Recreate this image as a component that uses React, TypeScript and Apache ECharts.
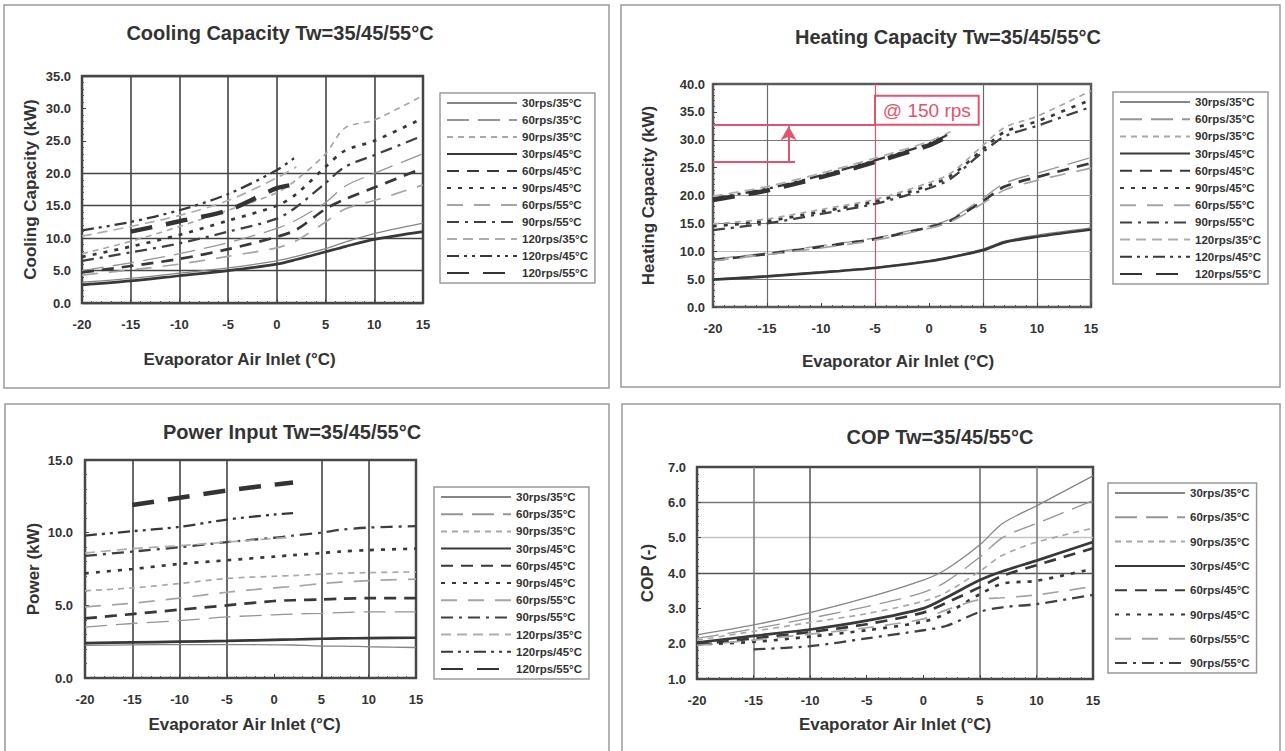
import React, { useEffect, useRef } from "react";
import * as echarts from "echarts";

// ---------- data ----------
const X_MIN = -20;
const X_MAX = 15;
const X_STEP = 5;
const X_FULL = [-20, -15, -10, -5, 0, 2, 5, 7, 10, 15];
const X_120 = [-20, -15, -10, -5, 0, 2];

const NAMES = [
  "30rps/35°C", "60rps/35°C", "90rps/35°C", "30rps/45°C", "60rps/45°C", "90rps/45°C",
  "60rps/55°C", "90rps/55°C", "120rps/35°C", "120rps/45°C", "120rps/55°C",
];
const COP_NAMES = NAMES.slice(0, 8);

// Cooling capacity (kW)
const COOL_30_35 = [3.2, 3.8, 4.6, 5.4, 6.5, 7.2, 8.4, 9.4, 10.7, 12.3];
const COOL_60_35 = [5.0, 6.2, 7.6, 9.3, 11.5, 12.8, 15.5, 18.0, 20.0, 23.0];
const COOL_90_35 = [7.6, 9.5, 11.8, 14.3, 17.0, 19.0, 23.0, 27.0, 28.2, 32.0];
const COOL_30_45 = [2.8, 3.4, 4.2, 5.0, 6.0, 6.7, 7.9, 8.7, 9.8, 11.0];
const COOL_60_45 = [4.7, 5.7, 6.8, 8.3, 10.2, 11.3, 14.5, 16.0, 17.8, 20.8];
const COOL_90_45 = [7.1, 8.7, 10.5, 12.7, 15.0, 16.8, 21.0, 23.5, 25.0, 28.5];
const COOL_60_55 = [4.3, 5.1, 6.0, 7.2, 8.5, 9.6, 12.5, 14.5, 15.8, 18.2];
const COOL_90_55 = [6.5, 7.8, 9.2, 11.0, 13.0, 14.8, 18.5, 21.0, 22.8, 25.8];
const COOL_120_35 = [10.3, 11.8, 13.5, 15.8, 19.3, 21.0];
const COOL_120_45 = [11.2, 12.5, 14.3, 16.8, 20.5, 22.6];
const COOL_120_55 = [null, 11.0, 12.6, 14.3, 17.7, 18.3];

// Heating capacity (kW)
const HEAT_30_35 = [5.0, 5.6, 6.3, 7.1, 8.3, 9.0, 10.4, 11.8, 12.9, 14.2];
const HEAT_60_35 = [8.6, 9.7, 11.0, 12.4, 14.5, 15.8, 19.5, 22.2, 24.0, 26.8];
const HEAT_90_35 = [14.9, 15.8, 17.5, 19.3, 22.3, 24.0, 29.0, 32.2, 34.2, 38.8];
const HEAT_30_45 = [4.9, 5.5, 6.2, 7.0, 8.2, 8.9, 10.2, 11.6, 12.6, 13.9];
const HEAT_60_45 = [8.4, 9.5, 10.8, 12.2, 14.3, 15.5, 19.0, 21.6, 23.3, 25.8];
const HEAT_90_45 = [14.5, 15.4, 17.1, 18.9, 21.8, 23.5, 28.3, 31.4, 33.3, 37.2];
const HEAT_60_55 = [8.3, 9.4, 10.6, 12.0, 14.1, 15.3, 18.6, 21.0, 22.7, 24.9];
const HEAT_90_55 = [13.8, 15.0, 16.7, 18.5, 21.3, 23.0, 27.8, 30.6, 32.5, 35.9];
const HEAT_120_35 = [19.9, 21.6, 24.0, 26.7, 29.7, 31.5];
const HEAT_120_45 = [19.5, 21.2, 23.6, 26.3, 29.3, 31.2];
const HEAT_120_55 = [19.2, 20.9, 23.3, 26.0, 29.0, 30.9];

// Power input (kW)
const POW_30_35 = [2.25, 2.28, 2.3, 2.3, 2.28, 2.27, 2.2, 2.2, 2.15, 2.1];
const POW_60_35 = [3.5, 3.75, 3.95, 4.2, 4.35, 4.4, 4.45, 4.5, 4.55, 4.55];
const POW_90_35 = [6.0, 6.2, 6.5, 6.85, 7.0, 7.05, 7.15, 7.2, 7.25, 7.3];
const POW_30_45 = [2.4, 2.45, 2.5, 2.55, 2.62, 2.65, 2.7, 2.72, 2.75, 2.77];
const POW_60_45 = [4.1, 4.4, 4.7, 5.0, 5.3, 5.35, 5.4, 5.45, 5.5, 5.5];
const POW_90_45 = [7.2, 7.5, 7.85, 8.1, 8.35, 8.45, 8.6, 8.7, 8.8, 8.9];
const POW_60_55 = [4.9, 5.15, 5.5, 5.9, 6.2, 6.3, 6.5, 6.6, 6.7, 6.8];
const POW_90_55 = [8.4, 8.7, 9.0, 9.35, 9.65, 9.8, 10.0, 10.2, 10.35, 10.45];
const POW_120_35 = [8.6, 8.9, 9.1, 9.35, 9.6, 9.7];
const POW_120_45 = [9.8, 10.1, 10.4, 10.9, 11.25, 11.35];
const POW_120_55 = [null, 11.9, 12.4, 12.9, 13.3, 13.45];

// COP (-)
const COP_30_35 = [2.25, 2.53, 2.88, 3.3, 3.8, 4.1, 4.8, 5.4, 5.9, 6.75];
const COP_60_35 = [2.15, 2.42, 2.72, 3.05, 3.45, 3.75, 4.45, 5.0, 5.4, 6.05];
const COP_90_35 = [2.1, 2.35, 2.6, 2.85, 3.2, 3.45, 4.05, 4.5, 4.87, 5.27];
const COP_30_45 = [2.03, 2.22, 2.4, 2.65, 3.0, 3.3, 3.8, 4.05, 4.35, 4.88];
const COP_60_45 = [1.98, 2.15, 2.33, 2.55, 2.88, 3.15, 3.6, 3.92, 4.22, 4.7];
const COP_90_45 = [1.98, 2.05, 2.2, 2.38, 2.62, 2.85, 3.4, 3.7, 3.78, 4.12];
const COP_60_55 = [1.95, 2.1, 2.27, 2.45, 2.7, 2.95, 3.25, 3.3, 3.38, 3.62];
const COP_90_55 = [null, 1.84, 1.93, 2.15, 2.38, 2.5, 2.9, 3.03, 3.12, 3.38];

// Annotation on heating chart
const ANNOT_X = -5;
const ANNOT_LOW = 26;
const ANNOT_HIGH = 32.7;
const ANNOT_BOX_TOP = 37.9;
const ANNOT_BOX_RIGHT = 4.6;
const ANNOT_ARROW_X = -13;
const ANNOT_LOW_END = -12.4;
const ANNOT_TEXT = "@ 150 rps";

// ---------- styles ----------
const FONT = '"Liberation Sans", Arial, sans-serif';
const RED = "#e2536d";
const STYLE: Record<string, { color: string; width: number; type: any }> = {
  "30rps/35°C": { color: "#858585", width: 1.3, type: "solid" },
  "60rps/35°C": { color: "#959595", width: 1.3, type: [22, 9] },
  "90rps/35°C": { color: "#a8a8a8", width: 1.7, type: [6, 5] },
  "30rps/45°C": { color: "#383838", width: 2.7, type: "solid" },
  "60rps/45°C": { color: "#383838", width: 2.7, type: [12, 8] },
  "90rps/45°C": { color: "#383838", width: 2.7, type: [4, 7] },
  "60rps/55°C": { color: "#a5a5a5", width: 1.7, type: [16, 11] },
  "90rps/55°C": { color: "#404040", width: 2.3, type: [12, 6, 3, 6] },
  "120rps/35°C": { color: "#adadad", width: 1.7, type: [10, 6] },
  "120rps/45°C": { color: "#383838", width: 2.3, type: [12, 5, 3, 5, 3, 5] },
  "120rps/55°C": { color: "#333333", width: 4.5, type: [22, 14] },
};

function mkSeries(g: number, name: string, xs: number[], ys: (number | null)[]) {
  const s = STYLE[name];
  const data = xs.map((x, i) => [x, ys[i]]).filter((d) => d[1] !== null);
  return {
    type: "line",
    name,
    xAxisIndex: g,
    yAxisIndex: g,
    data,
    symbol: "none",
    showSymbol: false,
    smooth: 0.3,
    lineStyle: { color: s.color, width: s.width, type: s.type },
    itemStyle: { color: s.color },
    emphasis: { disabled: true },
    z: 3,
  };
}

function groupSeries(g: number, sets: (number | null)[][], withX120: boolean) {
  return sets.map((ys, i) => mkSeries(g, NAMES[i], i >= 8 && withX120 ? X_120 : X_FULL, ys));
}

const T = "transparent";

function mkX(g: number, colors: string[], width: number, nameGap: number, pad: number[]) {
  return {
    type: "value",
    gridIndex: g,
    min: X_MIN,
    max: X_MAX,
    interval: X_STEP,
    axisLine: { show: false, onZero: false },
    axisTick: { show: true, inside: true, length: 4, lineStyle: { color: "#444" } },
    minorTick: { show: true, splitNumber: 5, length: 2, lineStyle: { color: "#555" } },
    axisLabel: { color: "#333", fontSize: 13, fontWeight: "bold", fontFamily: FONT, margin: 15 },
    splitLine: { show: true, lineStyle: { color: colors, width } },
    name: "Evaporator Air Inlet (°C)",
    nameLocation: "middle",
    nameGap,
    nameTextStyle: { color: "#333", fontSize: 17, fontWeight: "bold", fontFamily: FONT, padding: pad },
  };
}

function mkY(g: number, min: number, max: number, step: number, colors: string[] | null, width: number, name: string, nameGap: number, margin: number) {
  return {
    type: "value",
    gridIndex: g,
    min,
    max,
    interval: step,
    axisLine: { show: false, onZero: false },
    axisTick: { show: true, inside: true, length: 4, lineStyle: { color: "#444" } },
    minorTick: { show: true, splitNumber: 5, length: 2, lineStyle: { color: "#555" } },
    axisLabel: {
      color: "#333", fontSize: 13, fontWeight: "bold", fontFamily: FONT, margin,
      formatter: (v: number) => v.toFixed(1),
    },
    splitLine: colors ? { show: true, lineStyle: { color: colors, width } } : { show: false },
    name,
    nameLocation: "middle",
    nameGap,
    nameTextStyle: { color: "#333", fontSize: 17, fontWeight: "bold", fontFamily: FONT },
  };
}

function mkLegend(left: number, top: number, names: string[], gap: number) {
  return {
    orient: "vertical",
    left,
    top,
    data: names,
    itemWidth: 70,
    itemHeight: 12,
    itemGap: gap,
    padding: [4, 7, 4, 6],
    borderColor: "#999",
    borderWidth: 1.5,
    backgroundColor: "#fff",
    selectedMode: false,
    itemStyle: { color: T, borderColor: T, borderWidth: 0, opacity: 0 },
    textStyle: { fontSize: 11.5, fontWeight: "bold", color: "#333", fontFamily: FONT },
  };
}

function panelRect(x: number, y: number, w: number, h: number) {
  return {
    type: "rect",
    shape: { x, y, width: w, height: h },
    style: { fill: "none", stroke: "#9a9a9a", lineWidth: 1.5 },
    silent: true,
    z: 0,
  };
}

function titleText(x: number, y: number, text: string) {
  return {
    type: "text",
    x,
    y,
    silent: true,
    style: {
      text,
      fill: "#333",
      font: `bold 20px ${FONT}`,
      align: "center",
      verticalAlign: "middle",
    },
  };
}

export default function App() {
  const ref = useRef<HTMLDivElement>(null);

  useEffect(() => {
    if (!ref.current) return;
    const chart = echarts.init(ref.current, undefined, { renderer: "svg" });

    const series: any[] = [
      ...groupSeries(0, [COOL_30_35, COOL_60_35, COOL_90_35, COOL_30_45, COOL_60_45, COOL_90_45, COOL_60_55, COOL_90_55, COOL_120_35, COOL_120_45, COOL_120_55], true),
      ...groupSeries(1, [HEAT_30_35, HEAT_60_35, HEAT_90_35, HEAT_30_45, HEAT_60_45, HEAT_90_45, HEAT_60_55, HEAT_90_55, HEAT_120_35, HEAT_120_45, HEAT_120_55], true),
      ...groupSeries(2, [POW_30_35, POW_60_35, POW_90_35, POW_30_45, POW_60_45, POW_90_45, POW_60_55, POW_90_55, POW_120_35, POW_120_45, POW_120_55], true),
      ...groupSeries(3, [COP_30_35, COP_60_35, COP_90_35, COP_30_45, COP_60_45, COP_90_45, COP_60_55, COP_90_55], false),
      {
        type: "line",
        name: "annotation",
        xAxisIndex: 1,
        yAxisIndex: 1,
        data: [[ANNOT_X, ANNOT_HIGH]],
        symbol: "none",
        lineStyle: { opacity: 0 },
        z: 5,
        markLine: {
          silent: true,
          symbol: ["none", "none"],
          label: { show: false },
          lineStyle: { color: RED, width: 2, type: "solid" },
          data: [
            [{ coord: [X_MIN, ANNOT_HIGH] }, { coord: [ANNOT_X, ANNOT_HIGH] }],
            [{ coord: [X_MIN, ANNOT_LOW] }, { coord: [ANNOT_LOW_END, ANNOT_LOW] }],
            [
              { coord: [ANNOT_ARROW_X, ANNOT_LOW] },
              { coord: [ANNOT_ARROW_X, ANNOT_HIGH - 0.3], symbol: "arrow", symbolSize: [12, 14] },
            ],
          ],
        },
        markArea: {
          silent: true,
          itemStyle: { color: "rgba(255,255,255,0.9)", borderColor: RED, borderWidth: 2 },
          label: {
            show: true,
            position: "inside",
            color: RED,
            fontSize: 19,
            fontFamily: FONT,
            formatter: ANNOT_TEXT,
          },
          data: [[{ coord: [ANNOT_X, ANNOT_HIGH] }, { coord: [ANNOT_BOX_RIGHT, ANNOT_BOX_TOP] }]],
        },
      },
    ];

    const option: any = {
      animation: false,
      backgroundColor: "#fff",
      grid: [
        { left: 82, top: 76, width: 341, height: 227, show: true, borderColor: "#474747", borderWidth: 2.5, backgroundColor: T },
        { left: 713, top: 84, width: 378, height: 223, show: true, borderColor: "#5a5a5a", borderWidth: 2.5, backgroundColor: T },
        { left: 85, top: 460, width: 331, height: 218, show: true, borderColor: "#474747", borderWidth: 2.5, backgroundColor: T },
        { left: 697, top: 467, width: 396, height: 212, show: true, borderColor: "#474747", borderWidth: 2.5, backgroundColor: T },
      ],
      xAxis: [
        mkX(0, ["#444", "#444", "#444", "#444", "#444", "#444", "#444", "#444"], 1.6, 48, [0, 26, 0, 0]),
        mkX(1, [T, "#6a6a6a", T, RED, T, "#6a6a6a", "#6a6a6a", T], 1.2, 46, [0, 8, 0, 0]),
        mkX(2, [T, "#444", "#444", "#444", T, "#444", "#444", T], 1.6, 38, [0, 12, 0, 0]),
        mkX(3, [T, "#777", "#555", T, T, "#666", "#777", T], 1.5, 37, [0, 0, 0, 0]),
      ],
      yAxis: [
        mkY(0, 0, 35, 5, ["#444", "#444", "#444", "#444", "#444", T, T, "#444"], 1.4, "Cooling Capacity (kW)", 43, 11),
        mkY(1, 0, 40, 5, [T, "#7a7a7a", "#bdbdbd", "#7a7a7a", "#9a9a9a", T, "#7a7a7a", T, T], 1.2, "Heating Capacity (kW)", 56, 8),
        mkY(2, 0, 15, 5, null, 1, "Power (kW)", 43, 12),
        mkY(3, 1, 7, 1, [T, T, T, "#555", "#c4c4c4", "#777", T], 1.4, "COP (-)", 41, 11),
      ],
      legend: [
        mkLegend(440, 93, NAMES, 5.0),
        mkLegend(1113, 92, NAMES, 5.2),
        mkLegend(434, 487, NAMES, 5.2),
        mkLegend(1108, 483, COP_NAMES, 12.3),
      ],
      graphic: [
        panelRect(4, 5, 605, 383),
        panelRect(621, 5, 659, 382),
        panelRect(5, 404, 604, 360),
        panelRect(622, 404, 658, 360),
        titleText(280, 33, "Cooling Capacity Tw=35/45/55°C"),
        titleText(948, 37, "Heating Capacity Tw=35/45/55°C"),
        titleText(292, 432, "Power Input Tw=35/45/55°C"),
        titleText(940, 437, "COP Tw=35/45/55°C"),
      ],
      series,
    };

    chart.setOption(option);
    return () => chart.dispose();
  }, []);

  return (
    <div
      ref={ref}
      style={{ position: "absolute", left: 0, top: 0, width: 1285, height: 751, background: "#fff" }}
    />
  );
}
